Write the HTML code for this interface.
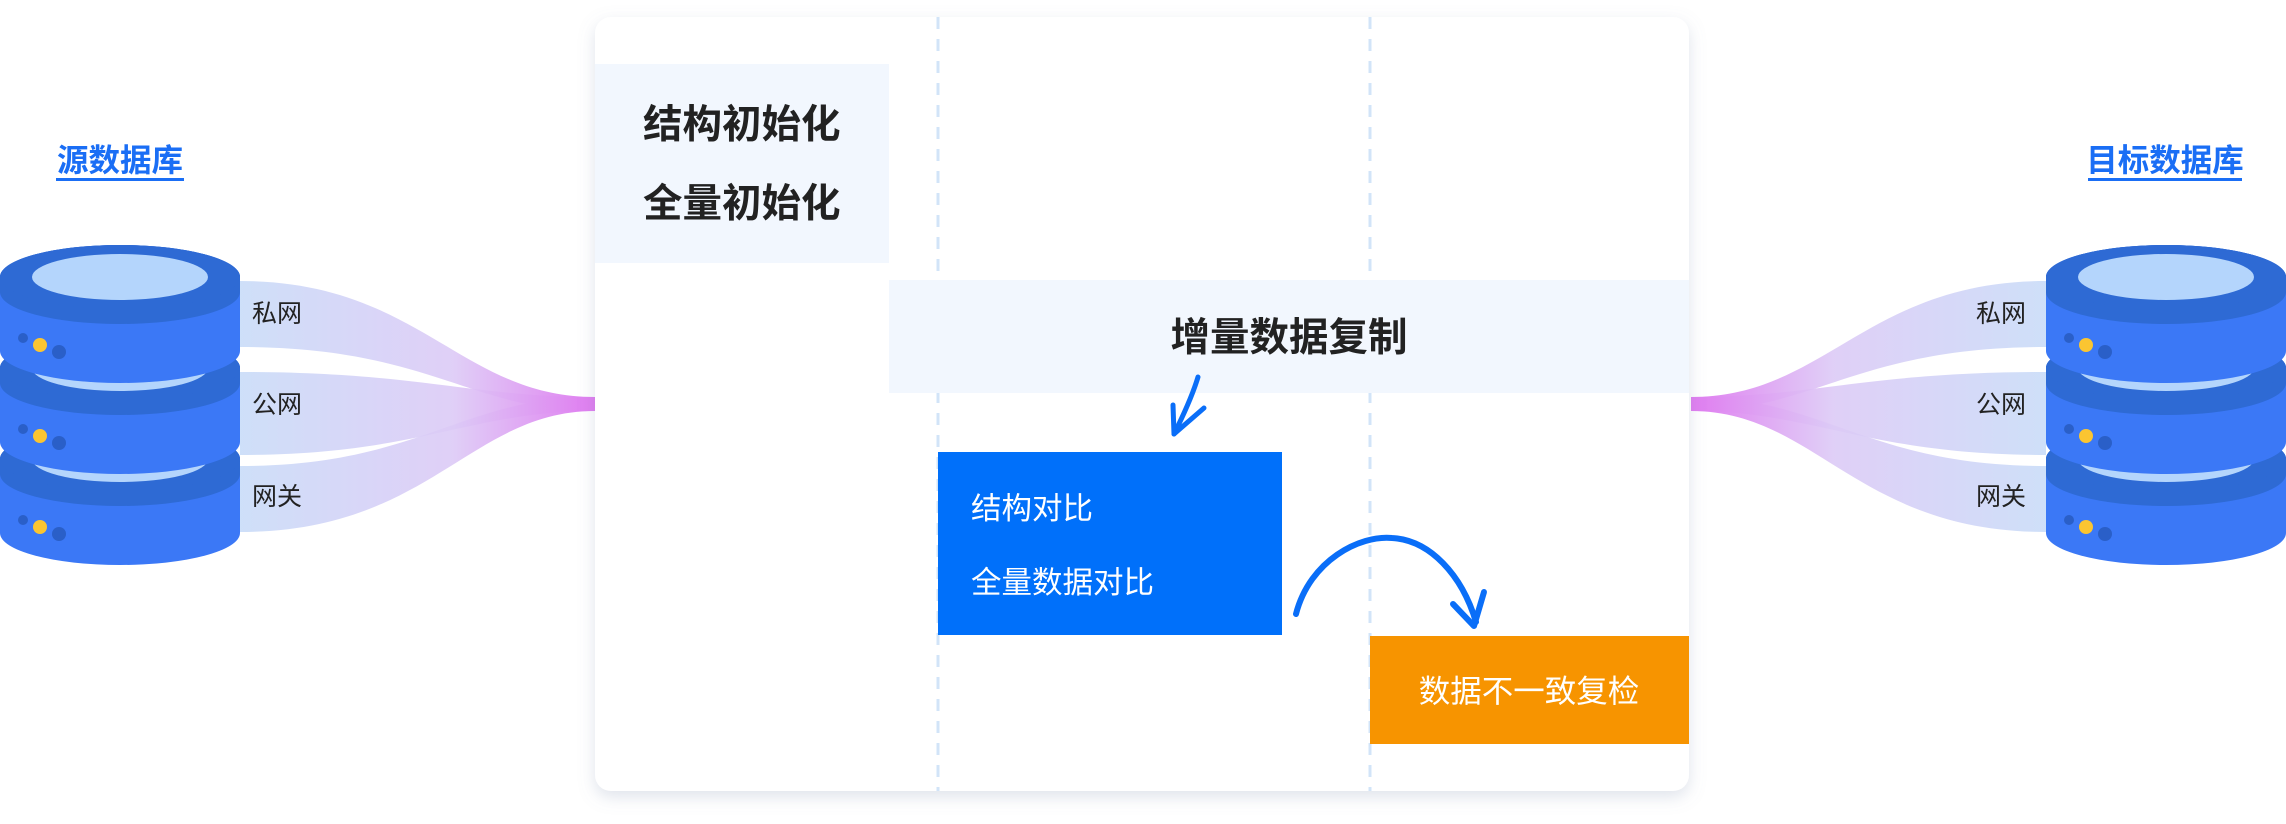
<!DOCTYPE html>
<html><head><meta charset="utf-8"><style>
html,body{margin:0;padding:0;background:#fff;}
body{width:2286px;height:824px;overflow:hidden;position:relative;font-family:"Liberation Sans","Noto Sans CJK SC",sans-serif;}
svg{position:absolute;left:0;top:0;}
</style></head><body>
<svg width="2286" height="824" viewBox="0 0 2286 824" xmlns="http://www.w3.org/2000/svg">
<defs>
<linearGradient id="rg" x1="0" x2="1" y1="0" y2="0">
<stop offset="0" stop-color="#c9dcf8" stop-opacity="0.9"/>
<stop offset="0.6" stop-color="#dccaf6" stop-opacity="0.9"/>
<stop offset="1" stop-color="#e07cf0"/>
</linearGradient>
<linearGradient id="rg2" x1="1" x2="0" y1="0" y2="0">
<stop offset="0" stop-color="#c9dcf8" stop-opacity="0.9"/>
<stop offset="0.6" stop-color="#dccaf6" stop-opacity="0.9"/>
<stop offset="1" stop-color="#e07cf0"/>
</linearGradient>
<filter id="sh" x="-5%" y="-5%" width="110%" height="112%"><feDropShadow dx="0" dy="6" stdDeviation="8" flood-color="#8090b0" flood-opacity="0.25"/></filter>
<g id="disk">
<path d="M0,0 A120,32 0 0 1 240,0 L240,74 A120,32 0 0 1 0,74 Z" fill="#3b78f6"/>
<path d="M0,0 A120,32 0 0 1 240,0 L240,15 A120,32 0 0 1 0,15 Z" fill="#2e6ad4"/>
<ellipse cx="120" cy="0" rx="120" ry="32" fill="#2e6ad4"/>
<ellipse cx="120" cy="0" rx="88" ry="23" fill="#b4d5fc"/>
<circle cx="23" cy="61" r="5" fill="#2a5fc8"/>
<circle cx="40" cy="68" r="7" fill="#fbc531"/>
<circle cx="59" cy="75" r="7" fill="#2a5fc8"/>
</g>
</defs>

<path d="M240,281 C420,281 460,397 595,397 L595,411 C470,411 430,347 240,347 Z" fill="url(#rg)"/>
<path d="M240,372 C420,372 470,397 595,397 L595,411 C470,411 420,455 240,455 Z" fill="url(#rg)"/>
<path d="M240,466 C420,466 460,397 595,397 L595,411 C470,411 430,532 240,532 Z" fill="url(#rg)"/>
<path d="M2046,281 C1866,281 1826,397 1691,397 L1691,411 C1816,411 1856,347 2046,347 Z" fill="url(#rg2)"/>
<path d="M2046,372 C1866,372 1816,397 1691,397 L1691,411 C1816,411 1866,455 2046,455 Z" fill="url(#rg2)"/>
<path d="M2046,466 C1866,466 1826,397 1691,397 L1691,411 C1816,411 1856,532 2046,532 Z" fill="url(#rg2)"/>

<use href="#disk" transform="translate(0,459)"/>
<use href="#disk" transform="translate(0,368)"/>
<use href="#disk" transform="translate(0,277)"/>
<use href="#disk" transform="translate(2046,459)"/>
<use href="#disk" transform="translate(2046,368)"/>
<use href="#disk" transform="translate(2046,277)"/>

<g font-family="Liberation Sans, Noto Sans CJK SC, sans-serif" font-size="25" fill="#222">
<text x="252" y="322">私网</text>
<text x="252" y="413">公网</text>
<text x="252" y="505">网关</text>
<text x="1976" y="322">私网</text>
<text x="1976" y="413">公网</text>
<text x="1976" y="505">网关</text>
</g>
<g font-family="Liberation Sans, Noto Sans CJK SC, sans-serif" font-size="31.5" font-weight="bold" fill="#1a6ef5" text-anchor="middle">
<text x="120" y="171">源数据库</text>
<text x="2165" y="171">目标数据库</text>
</g>
<rect x="56" y="178" width="128" height="3" fill="#1a6ef5"/>
<rect x="2088" y="178" width="154" height="3" fill="#1a6ef5"/>

<rect x="595" y="17" width="1094" height="774" rx="16" fill="#fff" filter="url(#sh)"/>
<line x1="938" y1="17" x2="938" y2="791" stroke="#d2e4f8" stroke-width="3" stroke-dasharray="12,10"/>
<line x1="1370" y1="17" x2="1370" y2="791" stroke="#d2e4f8" stroke-width="3" stroke-dasharray="12,10"/>
<rect x="595" y="64" width="294" height="199" fill="#f2f7fe"/>
<rect x="889" y="280" width="800" height="113" fill="#f2f7fe"/>
<g font-family="Liberation Sans, Noto Sans CJK SC, sans-serif" font-weight="bold" fill="#222">
<text x="643" y="138" font-size="39.5">结构初始化</text>
<text x="643" y="217" font-size="39.5">全量初始化</text>
<text x="1289" y="351" font-size="39.5" text-anchor="middle">增量数据复制</text>
</g>
<rect x="938" y="452" width="344" height="183" fill="#0070fa"/>
<rect x="1370" y="636" width="319" height="108" fill="#f79400"/>
<g font-family="Liberation Sans, Noto Sans CJK SC, sans-serif" fill="#fff">
<text x="971" y="519" font-size="30.5">结构对比</text>
<text x="971" y="593" font-size="30.5">全量数据对比</text>
<text x="1529" y="702" font-size="31.5" text-anchor="middle">数据不一致复检</text>
</g>
<g fill="none" stroke="#0a6ef8" stroke-linecap="round" stroke-linejoin="round">
<path d="M1198,377 C1192,397 1182,418 1174,434" stroke-width="5"/>
<path d="M1173,405 L1174,434 L1204,408" stroke-width="5"/>
<path d="M1296,614 C1310,560 1360,535 1392,538 C1430,540 1462,575 1476,622" stroke-width="6"/>
<path d="M1453,604 L1474,626 L1484,592" stroke-width="6"/>
</g>
</svg>
</body></html>
